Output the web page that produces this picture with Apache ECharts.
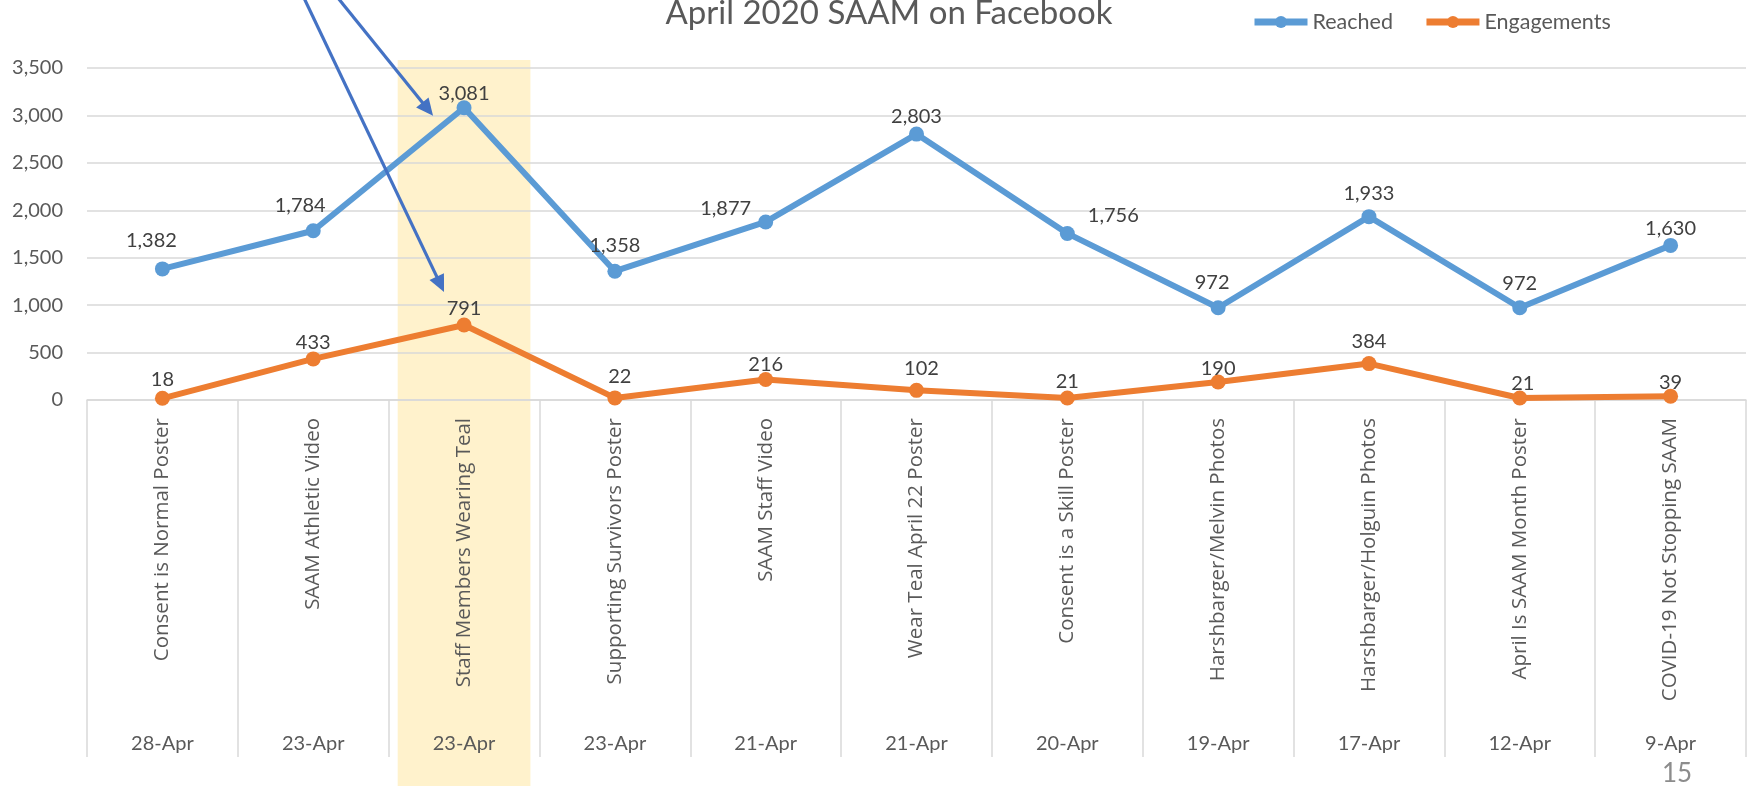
<!DOCTYPE html>
<html><head><meta charset="utf-8">
<script src="https://cdn.jsdelivr.net/npm/echarts@6/dist/echarts.min.js"></script>
<style>html,body{margin:0;padding:0;background:#fff}#c{width:1748px;height:786px}</style>
</head><body><div id="c"></div>
<script>
const titleText = 'April 2020 SAAM on Facebook';
const pageNumber = '15';
const categories = ['Consent is Normal Poster','SAAM Athletic Video','Staff Members Wearing Teal','Supporting Survivors Poster','SAAM Staff Video','Wear Teal April 22 Poster','Consent is a Skill Poster','Harshbarger/Melvin Photos','Harshbarger/Holguin Photos','April Is SAAM Month Poster','COVID-19 Not Stopping SAAM'];
const dates = ['28-Apr','23-Apr','23-Apr','23-Apr','21-Apr','21-Apr','20-Apr','19-Apr','17-Apr','12-Apr','9-Apr'];
const reached = [1382,1784,3081,1358,1877,2803,1756,972,1933,972,1630];
const engagements = [18,433,791,22,216,102,21,190,384,21,39];
const seriesNames = ['Reached','Engagements'];
const yMin = 0, yMax = 3500, yStep = 500;
const highlightIndex = 2;

// label placement tweaks (style, not data): [dx, height above point]
const reachedLabelShift = [[-11,28],[-13,25],[0,14],[0,26],[-40,13],[0,18],[46,18],[-6,25],[0,23],[0,24],[0,17]];
const engLabelShift = [[0,19],[0,16],[0,16],[5,21],[0,15],[5,22],[0,16],[0,13],[0,22],[3,14],[0,14]];

const fmt = v => Number(v).toLocaleString('en-US');
const grey = '#595959';
const gridCol = '#d9d9d9';
const CAL = 'Lato, "Open Sans", sans-serif';

function mkData(vals, shifts){
  return vals.map((v,i)=>({value:v, label:{offset:[shifts[i][0], -shifts[i][1]]}}));
}

const chart = echarts.init(document.getElementById('c'), null, {renderer:'canvas'});
const option = {
  animation:false,
  backgroundColor:'#ffffff',
  title:[
    {text:titleText, left:884, top:-8, textAlign:'center', textStyle:{fontFamily:CAL, fontSize:33, fontWeight:'normal', color:grey}},
    {text:pageNumber, left:1672, top:756, textAlign:'center', textStyle:{fontFamily:CAL, fontSize:26, fontWeight:'normal', color:'#8c8c8c'}}
  ],
  legend:{
    data:seriesNames, left:1246, top:6, itemWidth:53, itemHeight:15, itemGap:30,
    lineStyle:{width:7},
    textStyle:{fontFamily:CAL, fontSize:21.5, color:grey}
  },
  grid:[
    {left:87, right:2, top:68, bottom:386},
    {left:87, right:2, top:60, bottom:0}
  ],
  xAxis:[
    {type:'category', gridIndex:0, data:categories, boundaryGap:true,
     axisLine:{lineStyle:{color:gridCol, width:1.5}},
     axisTick:{show:true, length:357, interval:0, lineStyle:{color:gridCol, width:1.5}},
     axisLabel:{interval:0, rotate:90, margin:18, fontFamily:'"Open Sans", sans-serif', fontSize:20.5, color:grey},
     splitLine:{show:false}},
    {type:'category', gridIndex:0, data:dates, position:'bottom', offset:326,
     axisLine:{show:false}, axisTick:{show:false},
     axisLabel:{interval:0, margin:8, fontFamily:CAL, fontSize:20, color:grey}},
    {type:'category', gridIndex:1, data:categories, show:false}
  ],
  yAxis:[
    {type:'value', gridIndex:0, min:yMin, max:yMax, interval:yStep,
     axisLine:{show:false}, axisTick:{show:false},
     axisLabel:{margin:24, fontFamily:CAL, fontSize:20, color:grey, formatter:v=>fmt(v)},
     splitLine:{lineStyle:{color:gridCol, width:1.5}}},
    {type:'value', gridIndex:1, min:0, max:1, show:false, splitLine:{show:false}}
  ],
  series:[
    {name:seriesNames[0], type:'line', xAxisIndex:0, yAxisIndex:0, data:mkData(reached, reachedLabelShift),
     symbol:'circle', symbolSize:15, z:5,
     itemStyle:{color:'#5B9BD5'}, lineStyle:{color:'#5B9BD5', width:6},
     label:{show:true, position:'inside', fontFamily:CAL, fontSize:20, color:'#404040', formatter:p=>fmt(p.value)}},
    {name:seriesNames[1], type:'line', xAxisIndex:0, yAxisIndex:0, data:mkData(engagements, engLabelShift),
     symbol:'circle', symbolSize:15, z:5,
     itemStyle:{color:'#ED7D31'}, lineStyle:{color:'#ED7D31', width:6},
     label:{show:true, position:'inside', fontFamily:CAL, fontSize:20, color:'#404040', formatter:p=>fmt(p.value)}},
    {name:'highlight', type:'bar', xAxisIndex:2, yAxisIndex:1, barWidth:'88%', z:-1, silent:true,
     data:categories.map((c,i)=> i===highlightIndex ? 1 : null),
     itemStyle:{color:'#FFF2CC'}, label:{show:false}}
  ]
};
chart.setOption(option);

// annotation arrows pointing at highlighted points
function arrow(sx, sy, tx, ty){
  const dx = tx - sx, dy = ty - sy, L = Math.hypot(dx, dy);
  const ux = dx / L, uy = dy / L, hl = 17, hw = 8;
  const bx = tx - ux*hl, by = ty - uy*hl;
  return [
    {type:'line', z:10, shape:{x1:sx, y1:sy, x2:bx+ux*2, y2:by+uy*2}, style:{stroke:'#4472C4', lineWidth:3.2}},
    {type:'polygon', z:10, shape:{points:[[tx,ty],[bx - uy*hw, by + ux*hw],[bx + uy*hw, by - ux*hw]]}, style:{fill:'#4472C4'}}
  ];
}
const pTop = chart.convertToPixel({xAxisIndex:0, yAxisIndex:0}, [highlightIndex, reached[highlightIndex]]);
const pBot = chart.convertToPixel({xAxisIndex:0, yAxisIndex:0}, [highlightIndex, engagements[highlightIndex]]);
chart.setOption({graphic: [
  ...arrow(338, -2, pTop[0] - 31, pTop[1] + 8),
  ...arrow(304, -2, pBot[0] - 20, pBot[1] - 33)
]});
</script>
</body></html>
